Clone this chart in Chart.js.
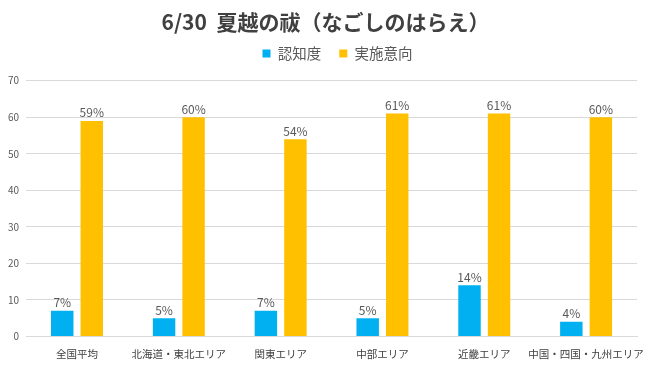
<!DOCTYPE html>
<html><head><meta charset="utf-8">
<script src="https://cdn.jsdelivr.net/npm/chart.js@4/dist/chart.umd.min.js"></script>
<style>html,body{margin:0;padding:0;background:#fff}#wrap{width:650px;height:379px}</style>
</head><body><div id="wrap"><canvas id="c" width="650" height="379"></canvas></div>
<script>
const categories = ['全国平均','北海道・東北エリア','関東エリア','中部エリア','近畿エリア','中国・四国・九州エリア'];
const awareness = [7,5,7,5,14,4];
const intention = [59,60,54,61,61,60];
const seriesNames = ['認知度','実施意向'];
const yTicks = [0,10,20,30,40,50,60,70];

const FONT = "'Noto Sans CJK JP','Noto Sans',sans-serif";
const labelPlugin = {
  id:'vlabels',
  afterDatasetsDraw(chart){
    const ctx = chart.ctx;
    ctx.save();
    ctx.font = "12px " + FONT;
    ctx.fillStyle = '#595959';
    ctx.textAlign = 'center';
    ctx.textBaseline = 'bottom';
    chart.data.datasets.forEach((ds,i)=>{
      chart.getDatasetMeta(i).data.forEach((el,j)=>{
        ctx.fillText(ds.data[j] + '%', el.x, el.y - 2);
      });
    });
    ctx.restore();
  }
};
const legendSpace = {
  id:'legendSpace',
  beforeInit(chart){
    const orig = chart.legend.fit;
    chart.legend.fit = function(){ orig.call(this); this.height += 4; };
  },
  afterLayout(chart){
    chart.legend.left += 12; chart.legend.right += 12;
    chart.legend.top -= 6; chart.legend.bottom -= 6;
  }
};

new Chart(document.getElementById('c'),{
  type:'bar',
  data:{
    labels:categories,
    datasets:[
      {label:seriesNames[0],data:awareness,backgroundColor:'#00B0F0',categoryPercentage:0.58,barPercentage:0.76},
      {label:seriesNames[1],data:intention,backgroundColor:'#FFC000',categoryPercentage:0.58,barPercentage:0.76}
    ]
  },
  options:{
    responsive:false,
    animation:false,
    devicePixelRatio:1,
    layout:{padding:{left:1,right:0,top:0,bottom:8}},
    plugins:{
      title:{display:true,text:'6/30  夏越の祓（なごしのはらえ）',color:'#404040',
        font:{family:FONT,size:21,weight:'bold'},padding:{top:9,bottom:0}},
      legend:{display:true,position:'top',
        labels:{boxWidth:8,boxHeight:8,color:'#595959',font:{family:FONT,size:14.5},padding:18}},
      tooltip:{enabled:false}
    },
    scales:{
      x:{grid:{display:false,drawTicks:false},border:{color:'#d9d9d9'},
        afterFit(axis){ axis.paddingRight = 13; },
        ticks:{color:'#404040',font:{family:FONT,size:10.5},padding:11,maxRotation:0,autoSkip:false}},
      y:{min:0,max:70,
        afterBuildTicks(axis){axis.ticks = yTicks.map(v=>({value:v}));},
        grid:{color:'#d9d9d9',drawTicks:false},border:{display:false},
        ticks:{color:'#595959',font:{family:FONT,size:10},padding:7}}
    }
  },
  plugins:[labelPlugin, legendSpace]
});
</script></body></html>
